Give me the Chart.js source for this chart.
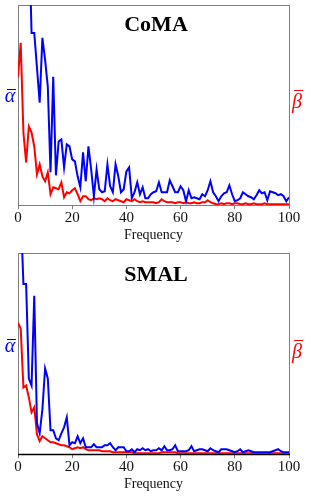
<!DOCTYPE html>
<html>
<head>
<meta charset="utf-8">
<script src="https://cdn.jsdelivr.net/npm/chart.js@4.4.1/dist/chart.umd.min.js"></script>
<style>
  html, body { margin: 0; padding: 0; background: #fff; }
  body { width: 311px; height: 503px; position: relative; overflow: hidden; }
  .box { position: absolute; left: 0; width: 311px; }
</style>
</head>
<body>
<div class="box" style="top:0;height:250px"><canvas id="comaChart" width="311" height="250"></canvas></div>
<div class="box" style="top:250px;height:253px"><canvas id="smalChart" width="311" height="253"></canvas></div>
<script>
// frequency bins 0..100
const freq = [0,1,2,3,4,5,6,7,8,9,10,11,12,13,14,15,16,17,18,19,20,
  21,22,23,24,25,26,27,28,29,30,31,32,33,34,35,36,37,38,39,40,
  41,42,43,44,45,46,47,48,49,50,51,52,53,54,55,56,57,58,59,60,
  61,62,63,64,65,66,67,68,69,70,71,72,73,74,75,76,77,78,79,80,
  81,82,83,84,85,86,87,88,89,90,91,92,93,94,95,96,97,98,99,100];
const xTicks = [0, 20, 40, 60, 80, 100];

// CoMA
const comaAlpha = [420,390,350,320,280,173,173,138,103,168,146,119,33,129,30,64,66,38,61,59,
  46,44,29,18,53,24,59,36,9,36,16,13,14,41,19,13,41,29,13,16,
  34,38,7,13,23,11,18,7,7,11,13,14,23,13,13,13,25,19,13,13,
  19,15,4,15,7,8,7,6,11,9,15,24,13,9,4,9,12,13,20,11,
  4,5,7,13,11,9,8,6,10,15,12,13,5,14,13,12,10,11,9,4,8];
const comaBeta = [129,163,73,43,79,73,59,31,41,29,24,33,11,18,17,16,23,8,13,12,
  15,17,11,4,9,9,6,5,7,6,7,6,4,7,5,4,6,5,4,3,
  6,5,4,6,4,3,4,3,3,3,3,2,3,6,4,3,3,3,2,3,
  3,2,3,2,2,3,2,2,3,3,5,3,2,1,1,2,1,2,2,1,
  2,2,1,1,2,1,1,2,1,1,1,2,1,1,1,1,1,1,1,1,1];

// SMAL
const smalAlpha = [330,245,171,171,76,69,159,31,21,45,86,76,24,24,16,14,21,27,37,9,
  12,11,18,11,16,7,7,7,10,7,7,7,9,9,11,7,4,7,7,7,
  3,3,5,2,5,4,6,4,5,3,4,4,6,4,8,4,4,5,9,3,
  3,3,3,4,8,3,4,5,5,4,3,6,4,3,2,5,5,5,4,3,
  2,3,5,2,3,4,3,2,2,2,2,2,2,2,3,4,5,3,2,2,2];
const smalBeta = [132,126,67,69,57,42,47,20,13,18,16,14,12,12,11,10,9,9,8,7,
  5,6,7,6,7,5,4,4,4,4,4,3,3,3,3,2,2,2,2,2,
  2,2,2,1,1,1,1,1,1,1,1,1,1,2,2,2,2,2,2,1,
  1,1,1,1,1,1,1,1,1,1,1,1,1,1,1,1,1,1,1,1,
  1,1,1,1,1,1,1,1,1,1,1,1,1,1,1,1,1,1,1,1,1];

const serif = '"Liberation Serif", "Times New Roman", serif';

// letter with a bar on top (the combining macron lands badly in canvas)
function barred(ctx, ch, x, y, barUp, color) {
  ctx.fillStyle = color;
  ctx.fillText(ch, x, y);
  const w = ctx.measureText(ch).width;
  ctx.fillRect(Math.round(x - w / 2 + 2), Math.round(y - barUp), Math.round(w - 1), 1);
}

// box, title and the two side symbols
const framePlugin = {
  id: 'frame',
  beforeDatasetsDraw(chart, args, opts) {
    const {ctx, chartArea: a} = chart;
    ctx.save();
    ctx.strokeStyle = '#7f7f7f';
    ctx.lineWidth = 1;
    ctx.strokeRect(Math.round(a.left) + 0.5, Math.round(a.top) + 0.5,
      Math.round(a.right - a.left), Math.round(a.bottom - a.top));
    ctx.strokeStyle = opts.bottomColor;
    ctx.lineWidth = opts.bottomWidth;
    ctx.beginPath();
    ctx.moveTo(a.left, Math.round(a.bottom) + 0.5);
    ctx.lineTo(a.right + 1, Math.round(a.bottom) + 0.5);
    ctx.stroke();
    ctx.restore();
  },
  afterDatasetsDraw(chart, args, opts) {
    const {ctx, chartArea: a} = chart;
    ctx.save();
    ctx.textAlign = 'center';
    ctx.textBaseline = 'middle';
    ctx.fillStyle = '#000';
    ctx.font = 'bold 22px ' + serif;
    ctx.fillText(opts.title, 156, a.top + opts.titleY);
    ctx.font = 'italic 20px ' + serif;
    barred(ctx, '\u03b1', 10, a.top + opts.sideY, 8, '#0000ff');
    barred(ctx, '\u03b2', 297, a.top + opts.sideY + 6, 13, '#ff0000');
    ctx.restore();
  }
};

function makeChart(id, alpha, beta, cfg) {
  return new Chart(document.getElementById(id), {
    type: 'line',
    data: {
      labels: freq,
      datasets: [{
        data: alpha,
        borderColor: '#0000ff',
        borderWidth: 2,
        pointRadius: 0,
        tension: 0,
        yAxisID: 'y'
      }, {
        data: beta,
        borderColor: '#ff0000',
        borderWidth: 2,
        pointRadius: 0,
        tension: 0,
        yAxisID: 'y1'
      }]
    },
    options: {
      responsive: false,
      animation: false,
      devicePixelRatio: 1,
      layout: { padding: { left: 18, right: 22, top: cfg.top, bottom: cfg.bottom } },
      scales: {
        x: {
          type: 'linear',
          min: 0,
          max: 100,
          afterBuildTicks: (s) => { s.ticks = xTicks.map(v => ({ value: v })); },
          grid: { drawOnChartArea: false, tickLength: 4, color: '#7f7f7f' },
          border: { display: false },
          ticks: { padding: 0, color: '#111', maxRotation: 0, font: { family: serif, size: 15 } },
          title: { display: true, text: 'Frequency', color: '#111', padding: 0, font: { family: serif, size: 14 } }
        },
        y: { display: false, min: 0, max: cfg.ymax },
        y1: { display: false, position: 'right', min: 0, max: cfg.ymax }
      },
      plugins: {
        legend: { display: false },
        tooltip: { enabled: false },
        frame: cfg.frame
      }
    },
    plugins: [framePlugin]
  });
}

makeChart('comaChart', comaAlpha, comaBeta, {
  top: 5, bottom: 6, ymax: 201,
  frame: { title: 'CoMA', titleY: 20, sideY: 92, bottomColor: '#7f7f7f', bottomWidth: 1 }
});
makeChart('smalChart', smalAlpha, smalBeta, {
  top: 3, bottom: 10, ymax: 202,
  frame: { title: 'SMAL', titleY: 22, sideY: 94, bottomColor: '#000', bottomWidth: 1.5 }
});
</script>
</body>
</html>
